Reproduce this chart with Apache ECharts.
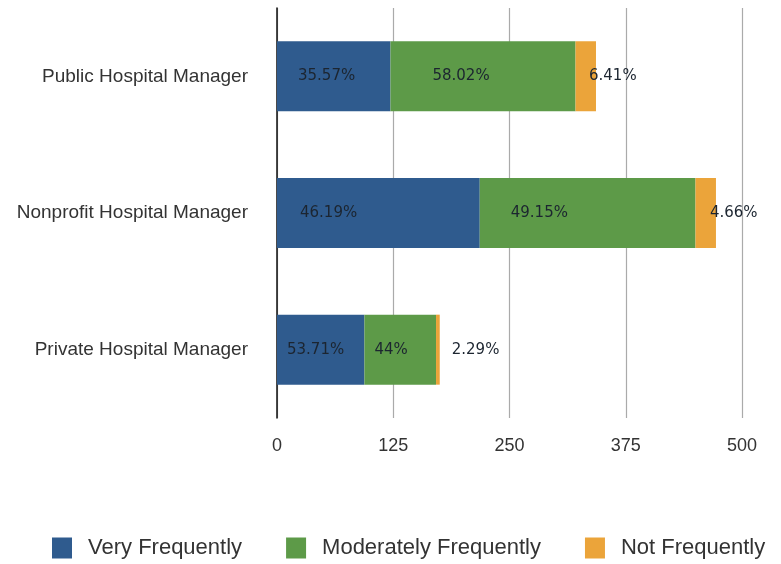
<!DOCTYPE html>
<html>
<head>
<meta charset="utf-8">
<script src="https://cdn.jsdelivr.net/npm/echarts@6/dist/echarts.min.js"></script>
<style>
  html, body { margin: 0; padding: 0; background: #fff; }
  #chart { width: 781px; height: 564px; }
</style>
</head>
<body>
<div id="chart"></div>
<script>
// Respondent counts per manager group and response frequency
const categories = ['Public Hospital Manager', 'Nonprofit Hospital Manager', 'Private Hospital Manager'];
const seriesNames = ['Very Frequently', 'Moderately Frequently', 'Not Frequently'];
const veryFrequently = [122, 218, 94];
const moderatelyFrequently = [199, 232, 77];
const notFrequently = [22, 22, 4];
const axisTicks = [0, 125, 250, 375, 500];

// Label placement tweaks (pixels) for each bar segment
const labelGap = [
  [21, 23, 10],
  [42, 31, 10],
  [-7, -6, 12]
];
const colors = ['#2f5b8e', '#5d9a48', '#eba43a'];

const totals = categories.map((_, i) => veryFrequently[i] + moderatelyFrequently[i] + notFrequently[i]);
const pct = (v, i) => parseFloat((v / totals[i] * 100).toFixed(2)) + '%';

const allValues = [veryFrequently, moderatelyFrequently, notFrequently];

const series = allValues.map((vals, s) => ({
  name: seriesNames[s],
  type: 'bar',
  stack: 'total',
  barWidth: 70,
  itemStyle: { color: colors[s] },
  label: {
    show: true,
    position: s === 2 ? 'right' : 'insideLeft',
    fontFamily: 'DejaVu Sans',
    fontSize: 15,
    color: '#1c2530',
    formatter: p => pct(p.value, p.dataIndex)
  },
  data: vals.map((v, i) => ({ value: v, label: { distance: labelGap[s][i] } }))
}));

const chart = echarts.init(document.getElementById('chart'));
chart.setOption({
  animation: false,
  backgroundColor: '#fff',
  grid: { left: 277, right: 39, top: 8, bottom: 146 },
  legend: {
    data: seriesNames,
    left: 47,
    top: 532,
    icon: 'rect',
    itemWidth: 20,
    itemHeight: 21,
    itemGap: 44,
    textStyle: {
      fontFamily: 'Liberation Sans',
      fontSize: 22,
      color: '#333',
      padding: [0, 0, 0, 11]
    }
  },
  xAxis: {
    type: 'value',
    min: axisTicks[0],
    max: axisTicks[axisTicks.length - 1],
    interval: axisTicks[1] - axisTicks[0],
    axisLine: { show: false },
    axisTick: { show: false },
    splitLine: { show: true, lineStyle: { color: '#aaa', width: 1.2 } },
    axisLabel: {
      margin: 19,
      fontFamily: 'Liberation Sans',
      fontSize: 18,
      color: '#333'
    }
  },
  yAxis: {
    type: 'category',
    data: categories,
    inverse: true,
    axisLine: { show: true, lineStyle: { color: '#111', width: 1.5 } },
    axisTick: { show: false },
    axisLabel: {
      margin: 29,
      fontFamily: 'Liberation Sans',
      fontSize: 19,
      color: '#333'
    }
  },
  series: series
});
</script>
</body>
</html>
